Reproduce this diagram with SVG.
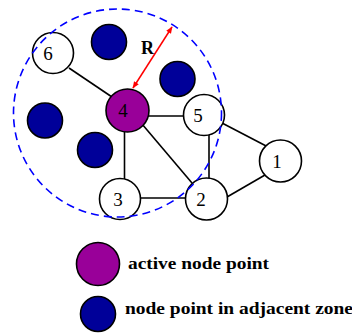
<svg xmlns="http://www.w3.org/2000/svg" width="352" height="334" viewBox="0 0 352 334">
<style>
.edge{stroke:#000;stroke-width:1.6;fill:none}
.node{fill:#fff;stroke:#000;stroke-width:1.6}
.active{fill:#990099;stroke:#000;stroke-width:1.6}
.adj{fill:#000099;stroke:#000;stroke-width:1.6}
.lbl{font-family:"Liberation Serif","DejaVu Serif",serif;font-size:19px;fill:#000}
.leg{font-family:"Liberation Serif","DejaVu Serif",serif;font-size:17px;font-weight:bold;fill:#000}
</style>
<defs>
<marker id="ah" viewBox="0 0 10 10" refX="9" refY="5" markerWidth="7" markerHeight="7" markerUnits="userSpaceOnUse" orient="auto-start-reverse">
<path d="M0,1 L10,5 L0,9 z" fill="#ff0000"/>
</marker>
</defs>
<rect width="352" height="334" fill="#fff"/>
<g id="connectors">
<line class="edge" x1="69" y1="68" x2="112" y2="97"/>
<line class="edge" x1="148" y1="116" x2="184" y2="116"/>
<line class="edge" x1="124.5" y1="132" x2="124.5" y2="179"/>
<line class="edge" x1="142" y1="124" x2="192" y2="183"/>
<line class="edge" x1="209" y1="135" x2="209" y2="180"/>
<line class="edge" x1="140" y1="198" x2="187" y2="198"/>
<line class="edge" x1="222" y1="123" x2="270" y2="148"/>
<line class="edge" x1="227" y1="197" x2="265" y2="175"/>
</g>
<g id="node6"><circle class="node" cx="53" cy="53" r="20.5"/><text class="lbl" x="48" y="53" text-anchor="middle" dominant-baseline="central">6</text></g>
<g id="node4"><circle class="active" cx="127.5" cy="110.5" r="21.5"/><text class="lbl" x="123" y="110.5" text-anchor="middle" dominant-baseline="central">4</text></g>
<g id="node5"><circle class="node" cx="204" cy="115" r="20.5"/><text class="lbl" x="198" y="115" text-anchor="middle" dominant-baseline="central">5</text></g>
<g id="node3"><circle class="node" cx="120" cy="199" r="20.5"/><text class="lbl" x="118" y="199" text-anchor="middle" dominant-baseline="central">3</text></g>
<g id="node2"><circle class="node" cx="206.5" cy="199" r="21"/><text class="lbl" x="201" y="199" text-anchor="middle" dominant-baseline="central">2</text></g>
<g id="node1"><circle class="node" cx="280.5" cy="161" r="21"/><text class="lbl" x="277" y="161" text-anchor="middle" dominant-baseline="central">1</text></g>
<g id="adj1"><circle class="adj" cx="109" cy="42" r="17.5"/></g>
<g id="adj2"><circle class="adj" cx="177.5" cy="79" r="17.5"/></g>
<g id="adj3"><circle class="adj" cx="45" cy="120.5" r="17.5"/></g>
<g id="adj4"><circle class="adj" cx="95" cy="150" r="17.5"/></g>
<g id="zone"><circle cx="117.5" cy="113" r="104" fill="none" stroke="#0000ff" stroke-width="1.6" stroke-dasharray="8,5"/></g>
<g id="radius">
<line x1="133" y1="88" x2="172" y2="27" stroke="#ff0000" stroke-width="1.5" marker-start="url(#ah)" marker-end="url(#ah)"/>
<text x="147.5" y="54" text-anchor="middle" font-family="Liberation Serif, DejaVu Serif, serif" font-size="18" font-weight="bold">R</text>
</g>
<g id="legend-active"><circle class="active" cx="98" cy="264" r="21.5"/><text class="leg" x="128" y="269" textLength="141" lengthAdjust="spacingAndGlyphs">active node point</text></g>
<g id="legend-adjacent"><circle class="adj" cx="98" cy="314" r="17.5"/><text class="leg" x="125" y="314" textLength="228" lengthAdjust="spacingAndGlyphs">node point in adjacent zone</text></g>
</svg>
